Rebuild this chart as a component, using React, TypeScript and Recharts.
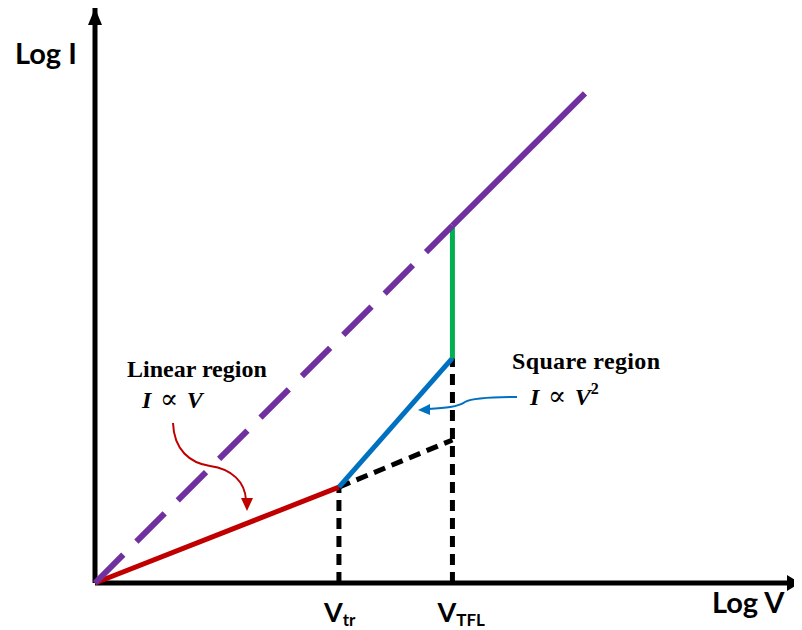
import { LineChart, Line, XAxis, YAxis } from 'recharts';

// log V / log I in arbitrary decades (equal scale on both axes)
const vTr = 3.46;
const vTfl = 5.07;

const ohmicV = [0, vTr];
const ohmicI = [0, 1.36];
const ohmicExtV = [vTr, vTfl];
const ohmicExtI = [1.36, 2.03];
const squareV = [vTr, vTfl];
const squareI = [1.36, 3.19];
const tflV = [vTfl, vTfl];
const tflI = [3.19, 5.07];
const trapFreeV = [0, vTfl];
const trapFreeI = [0, 5.07];
const trapFreeHighV = [vTfl, 6.95];
const trapFreeHighI = [5.07, 6.95];
const trDropV = [vTr, vTr];
const trDropI = [0, 1.36];
const tflDropV = [vTfl, vTfl];
const tflDropI = [0, 3.19];

const xMax = 10;
const yMax = 8.16;
const xAxisV = [0, xMax];
const xAxisI = [0, 0];
const yAxisV = [0, 0];
const yAxisI = [0, yMax];

const tickValues = [vTr, vTfl];
const tickMain = ['V', 'V'];
const tickSub = ['tr', 'TFL'];

const zip = (xs: number[], ys: number[]) => xs.map((x, i) => ({ x, y: ys[i] }));

const sans = 'Lato, "Open Sans", sans-serif';
const serif = '"Liberation Serif", "Times New Roman", serif';

const XTick = ({ x, y, payload }: any) => {
  const i = tickValues.indexOf(payload.value);
  return (
    <text x={x - 15} y={y + 39} fontFamily={sans} fontWeight={700} fill="#000">
      <tspan fontSize={27}>{tickMain[i]}</tspan>
      <tspan fontSize={17} dy={4}>{tickSub[i]}</tspan>
    </text>
  );
};

const arrowRight = (props: any) => {
  const { cx, cy, index } = props;
  if (index !== 1) return <g key={`xa-${index}`} />;
  return <polygon key="xa-head" points={`${cx},${cy} ${cx - 13},${cy - 8} ${cx - 13},${cy + 8}`} fill="#000" />;
};

const arrowUp = (props: any) => {
  const { cx, cy, index } = props;
  if (index !== 1) return <g key={`ya-${index}`} />;
  return <polygon key="ya-head" points={`${cx},${cy} ${cx - 7},${cy + 17} ${cx + 7},${cy + 17}`} fill="#000" />;
};

const Prop = () => (
  <tspan fontStyle="normal" fontWeight={400} fontFamily='"DejaVu Serif", serif' fontSize={27}>{' ∝ '}</tspan>
);

export default function App() {
  return (
    <div style={{ width: 794, height: 622, background: '#fff' }}>
      <LineChart width={794} height={622} margin={{ top: 0, right: 2, bottom: 0, left: 87 }}>
        <XAxis
          dataKey="x"
          type="number"
          domain={[0, xMax]}
          ticks={tickValues}
          interval={0}
          axisLine={false}
          tickLine={false}
          tickSize={0}
          tickMargin={0}
          height={47}
          tick={<XTick />}
        />
        <YAxis dataKey="y" type="number" domain={[0, yMax]} hide />

        {/* axes with arrow heads */}
        <Line data={zip(xAxisV, xAxisI)} dataKey="y" stroke="#000" strokeWidth={5} dot={arrowRight} activeDot={false} isAnimationActive={false} />
        <Line data={zip(yAxisV, yAxisI)} dataKey="y" stroke="#000" strokeWidth={5} dot={arrowUp} activeDot={false} isAnimationActive={false} />

        {/* guide lines */}
        <Line data={zip(trDropV, trDropI)} dataKey="y" stroke="#000" strokeWidth={5} strokeDasharray="11 7" dot={false} activeDot={false} isAnimationActive={false} />
        <Line data={zip(tflDropV, tflDropI)} dataKey="y" stroke="#000" strokeWidth={5} strokeDasharray="11 7" dot={false} activeDot={false} isAnimationActive={false} />
        <Line data={zip(ohmicExtV, ohmicExtI)} dataKey="y" stroke="#000" strokeWidth={5} strokeDasharray="12 7" dot={false} activeDot={false} isAnimationActive={false} />

        {/* regions */}
        <Line data={zip(ohmicV, ohmicI)} dataKey="y" stroke="#C00000" strokeWidth={5} dot={false} activeDot={false} isAnimationActive={false} />
        <Line data={zip(squareV, squareI)} dataKey="y" stroke="#0070C0" strokeWidth={5} dot={false} activeDot={false} isAnimationActive={false} />
        <Line data={zip(tflV, tflI)} dataKey="y" stroke="#00B050" strokeWidth={5} dot={false} activeDot={false} isAnimationActive={false} />
        <Line data={zip(trapFreeV, trapFreeI)} dataKey="y" stroke="#7030A0" strokeWidth={6} strokeDasharray="40 18.5" dot={false} activeDot={false} isAnimationActive={false} />
        <Line data={zip(trapFreeHighV, trapFreeHighI)} dataKey="y" stroke="#7030A0" strokeWidth={6} dot={false} activeDot={false} isAnimationActive={false} />

        {/* axis titles */}
        <text x={7} y={56} fontFamily={sans} fontWeight={700} fontSize={29} fill="#000">Log I</text>
        <text x={704} y={605} fontFamily={sans} fontWeight={700} fontSize={29} fill="#000">Log V</text>

        {/* annotations */}
        <text x={119} y={369} fontFamily={serif} fontWeight={700} fontSize={24} fill="#000">Linear region</text>
        <text x={134} y={400} fontFamily={serif} fontWeight={700} fontStyle="italic" fontSize={24} fill="#000">
          I<Prop />V
        </text>
        <path d="M165,415 C166,442 182,455 202,458 C224,461 237,474 238,492" fill="none" stroke="#C00000" strokeWidth={2} />
        <polygon points="239,503 233,490 245,490" fill="#C00000" />

        <text x={504} y={361} fontFamily={serif} fontWeight={700} fontSize={24} textLength={148} fill="#000">Square region</text>
        <text x={522} y={397} fontFamily={serif} fontWeight={700} fontStyle="italic" fontSize={24} fill="#000">
          I<Prop />V<tspan fontStyle="normal" fontSize={16} dy={-11}>2</tspan>
        </text>
        <path d="M509,389 C482,389 464,390 457,394 C450,399 437,400 420,401" fill="none" stroke="#0070C0" strokeWidth={2} />
        <polygon points="410,402 422,396 422,407" fill="#0070C0" />
      </LineChart>
    </div>
  );
}
